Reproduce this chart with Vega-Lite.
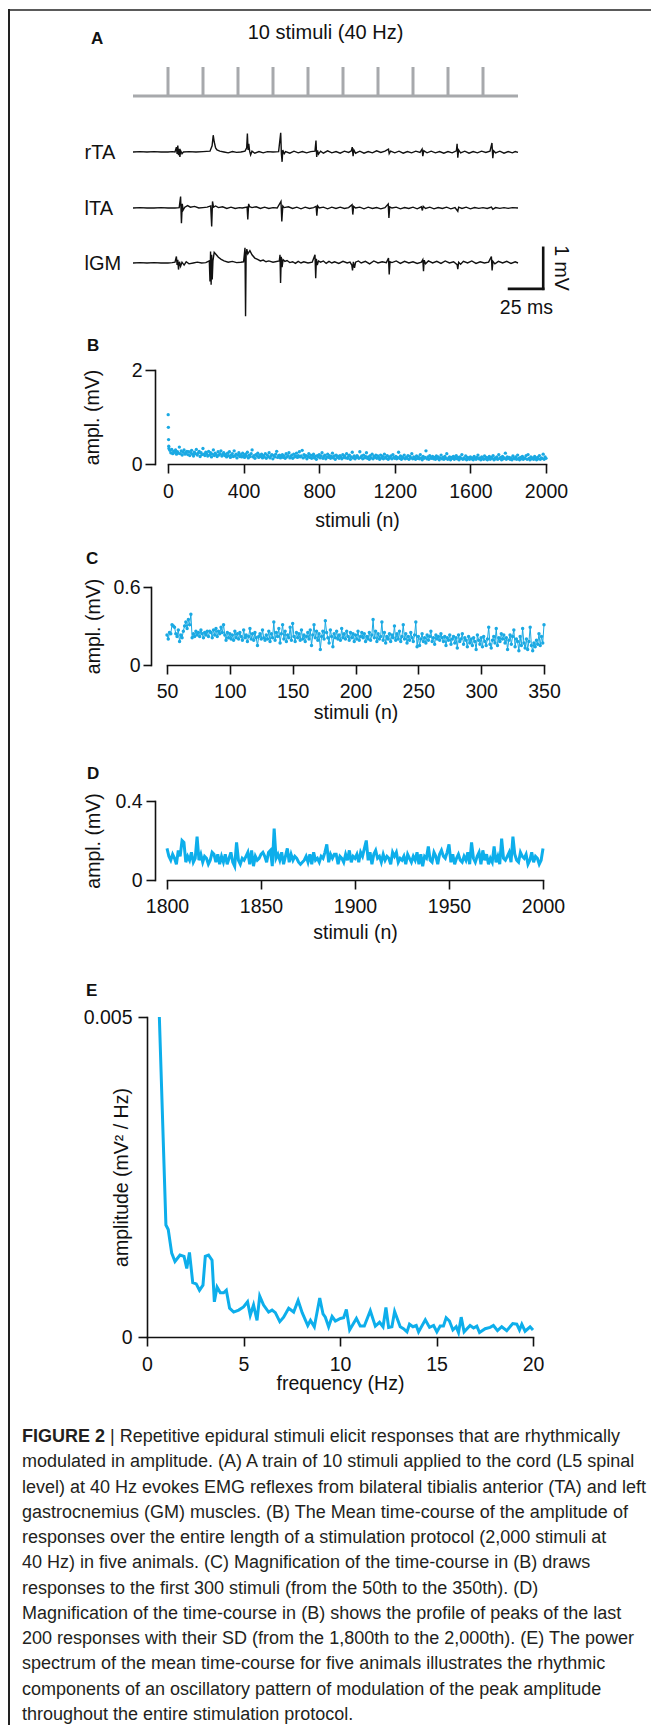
{
"$schema":"https://vega.github.io/schema/vega-lite/v6.json",
"background":"white",
"padding":{"left":8,"top":9,"right":0,"bottom":0},
"config":{
"view":{"stroke":null},
"font":"Liberation Sans",
"axis":{"grid":false,"domainColor":"#111","domainWidth":1.6,"tickColor":"#111","tickWidth":1.6,"tickSize":9,"labelFont":"Liberation Sans","labelFontSize":19.5,"labelColor":"#111","titleFont":"Liberation Sans","titleFontSize":19.5,"titleFontWeight":"normal","titleColor":"#111","labelFlush":false,"domainCap":"square"},
"title":{"font":"Liberation Sans","fontSize":17,"fontWeight":"bold","color":"#111","anchor":"start","frame":"group"},
"text":{"font":"Liberation Sans","color":"#111"}
},
"datasets":{
"rTA":[{"t":0,"v":0},{"t":5,"v":0.01},{"t":10,"v":0},{"t":15,"v":0.01},{"t":20,"v":0},{"t":25,"v":0},{"t":28,"v":0.01},{"t":30,"v":0},{"t":31,"v":0.12},{"t":31.5,"v":-0.05},{"t":32,"v":0.16},{"t":32.5,"v":-0.08},{"t":33,"v":0.08},{"t":33.5,"v":-0.12},{"t":34,"v":0.03},{"t":35,"v":-0.04},{"t":36,"v":0},{"t":40,"v":0.01},{"t":45,"v":0},{"t":50,"v":0.01},{"t":55,"v":0.02},{"t":56.5,"v":0.15},{"t":57.3,"v":0.41},{"t":58,"v":0.25},{"t":59,"v":0.1},{"t":60,"v":0.05},{"t":62,"v":0.02},{"t":65,"v":0},{"t":68,"v":-0.02},{"t":71,"v":0.01},{"t":74,"v":-0.01},{"t":77,"v":0},{"t":80,"v":0.02},{"t":81.2,"v":0.1},{"t":81.7,"v":0.45},{"t":82.2,"v":0.05},{"t":82.7,"v":0.2},{"t":83.3,"v":0.02},{"t":84,"v":-0.07},{"t":85,"v":0.02},{"t":87,"v":-0.03},{"t":90,"v":0.01},{"t":93,"v":-0.02},{"t":96,"v":0.01},{"t":100,"v":0},{"t":104,"v":0.01},{"t":105.5,"v":0.47},{"t":106,"v":-0.05},{"t":106.5,"v":-0.24},{"t":107,"v":0.05},{"t":108,"v":-0.04},{"t":109,"v":0.01},{"t":112,"v":-0.03},{"t":115,"v":0.02},{"t":118,"v":-0.02},{"t":121,"v":0.01},{"t":124,"v":-0.02},{"t":127,"v":0.01},{"t":130,"v":0.02},{"t":130.7,"v":0.28},{"t":131.2,"v":-0.12},{"t":131.8,"v":0.04},{"t":132.5,"v":-0.05},{"t":134,"v":0.02},{"t":136,"v":-0.03},{"t":139,"v":0.03},{"t":142,"v":-0.02},{"t":145,"v":0.01},{"t":148,"v":-0.03},{"t":151,"v":0.02},{"t":154,"v":-0.01},{"t":156,"v":0.03},{"t":156.6,"v":0.12},{"t":157.2,"v":-0.1},{"t":157.8,"v":0.05},{"t":159,"v":-0.03},{"t":162,"v":0.02},{"t":165,"v":-0.03},{"t":168,"v":0.01},{"t":171,"v":-0.02},{"t":174,"v":0.03},{"t":177,"v":-0.01},{"t":180,"v":0.02},{"t":182.5,"v":0.07},{"t":183,"v":-0.04},{"t":184,"v":0.02},{"t":187,"v":-0.02},{"t":190,"v":0.02},{"t":193,"v":-0.03},{"t":196,"v":0.01},{"t":199,"v":-0.02},{"t":202,"v":0.02},{"t":205,"v":-0.01},{"t":206.5,"v":0.07},{"t":207,"v":-0.1},{"t":207.7,"v":0.03},{"t":210,"v":-0.02},{"t":213,"v":0.02},{"t":216,"v":-0.02},{"t":219,"v":0.01},{"t":222,"v":-0.03},{"t":225,"v":0.01},{"t":228,"v":-0.02},{"t":231,"v":0.03},{"t":231.5,"v":0.2},{"t":232,"v":-0.14},{"t":232.6,"v":0.05},{"t":234,"v":-0.02},{"t":237,"v":0.02},{"t":240,"v":-0.03},{"t":243,"v":0.01},{"t":246,"v":-0.02},{"t":249,"v":0.02},{"t":252,"v":-0.01},{"t":255,"v":0.02},{"t":256.4,"v":0.22},{"t":257,"v":-0.15},{"t":257.6,"v":0.03},{"t":259,"v":-0.02},{"t":262,"v":0.02},{"t":265,"v":-0.03},{"t":268,"v":0.01},{"t":271,"v":-0.02},{"t":273,"v":0.01},{"t":275,"v":-0.01}],
"lTA":[{"t":0,"v":0},{"t":5,"v":0.01},{"t":10,"v":0},{"t":15,"v":0},{"t":20,"v":0.01},{"t":25,"v":0},{"t":30,"v":0},{"t":33,"v":0.01},{"t":34,"v":0.28},{"t":34.6,"v":-0.37},{"t":35.2,"v":0.1},{"t":35.8,"v":-0.05},{"t":37,"v":0.02},{"t":39,"v":0.06},{"t":41,"v":0.02},{"t":44,"v":0.04},{"t":47,"v":0},{"t":50,"v":0.01},{"t":53,"v":0.02},{"t":55.5,"v":0.05},{"t":56.2,"v":-0.45},{"t":56.8,"v":0.16},{"t":57.5,"v":0.02},{"t":59,"v":0.05},{"t":61,"v":0.01},{"t":64,"v":0.03},{"t":67,"v":-0.01},{"t":70,"v":0.02},{"t":73,"v":-0.01},{"t":76,"v":0.01},{"t":78,"v":0},{"t":81.5,"v":0.02},{"t":82,"v":-0.28},{"t":82.6,"v":0.1},{"t":83.3,"v":0.03},{"t":85,"v":0.01},{"t":88,"v":0.03},{"t":91,"v":-0.01},{"t":94,"v":0.02},{"t":97,"v":-0.01},{"t":100,"v":0.01},{"t":103,"v":0},{"t":105.7,"v":0.16},{"t":106.3,"v":-0.33},{"t":107,"v":0.05},{"t":108,"v":0.01},{"t":111,"v":0.03},{"t":114,"v":-0.01},{"t":117,"v":0.02},{"t":120,"v":-0.02},{"t":123,"v":0.02},{"t":126,"v":-0.01},{"t":129,"v":0.01},{"t":130.8,"v":0.04},{"t":131.3,"v":-0.19},{"t":131.9,"v":0.05},{"t":133,"v":0},{"t":136,"v":0.02},{"t":139,"v":-0.02},{"t":142,"v":0.02},{"t":145,"v":-0.01},{"t":148,"v":0.02},{"t":151,"v":-0.01},{"t":154,"v":0.01},{"t":156.5,"v":0.08},{"t":157,"v":-0.16},{"t":157.6,"v":0.04},{"t":159,"v":0},{"t":162,"v":0.02},{"t":165,"v":-0.02},{"t":168,"v":0.02},{"t":171,"v":-0.01},{"t":174,"v":0.01},{"t":177,"v":-0.02},{"t":180,"v":0.01},{"t":182.3,"v":0.1},{"t":182.8,"v":-0.24},{"t":183.4,"v":0.03},{"t":185,"v":0},{"t":188,"v":0.02},{"t":191,"v":-0.02},{"t":194,"v":0.01},{"t":197,"v":-0.01},{"t":200,"v":0.02},{"t":203,"v":-0.02},{"t":206,"v":0.03},{"t":206.7,"v":-0.06},{"t":207.3,"v":0.04},{"t":209,"v":-0.01},{"t":212,"v":0.02},{"t":215,"v":-0.02},{"t":218,"v":0.01},{"t":221,"v":-0.01},{"t":224,"v":0.02},{"t":227,"v":-0.02},{"t":230,"v":0.01},{"t":232,"v":-0.08},{"t":232.6,"v":0.02},{"t":235,"v":-0.01},{"t":238,"v":0.02},{"t":241,"v":-0.02},{"t":244,"v":0.01},{"t":247,"v":-0.01},{"t":250,"v":0.01},{"t":253,"v":-0.01},{"t":256,"v":0.02},{"t":257,"v":-0.03},{"t":259,"v":0.01},{"t":262,"v":-0.01},{"t":265,"v":0.01},{"t":268,"v":-0.01},{"t":271,"v":0.01},{"t":275,"v":0}],
"lGM":[{"t":0,"v":0},{"t":5,"v":0.01},{"t":10,"v":0},{"t":15,"v":0.01},{"t":20,"v":0},{"t":25,"v":0},{"t":28,"v":0.01},{"t":30,"v":0.02},{"t":31,"v":0.16},{"t":31.5,"v":-0.05},{"t":32,"v":0.08},{"t":32.5,"v":-0.16},{"t":33.2,"v":0.03},{"t":34,"v":-0.08},{"t":35,"v":0.02},{"t":36.5,"v":-0.05},{"t":38,"v":0.03},{"t":40,"v":-0.02},{"t":43,"v":0},{"t":46,"v":0.02},{"t":49,"v":0},{"t":52,"v":0.01},{"t":54.5,"v":0.05},{"t":55,"v":-0.45},{"t":55.4,"v":0.28},{"t":55.8,"v":-0.53},{"t":56.2,"v":0.2},{"t":56.6,"v":-0.4},{"t":57.1,"v":0.05},{"t":58,"v":0.26},{"t":59.5,"v":0.2},{"t":61,"v":0.14},{"t":63,"v":0.09},{"t":65,"v":0.05},{"t":68,"v":0.02},{"t":71,"v":0.04},{"t":74,"v":0.01},{"t":77,"v":0.02},{"t":79,"v":0.03},{"t":80,"v":0.37},{"t":80.4,"v":-1.3},{"t":80.8,"v":0.2},{"t":81.3,"v":0.34},{"t":82,"v":0.22},{"t":83.5,"v":0.3},{"t":85,"v":0.2},{"t":87,"v":0.12},{"t":89,"v":0.09},{"t":91,"v":0.05},{"t":93,"v":0.07},{"t":95,"v":0.03},{"t":97,"v":0.05},{"t":100,"v":0.02},{"t":104.5,"v":0.05},{"t":105,"v":0.2},{"t":105.4,"v":-0.49},{"t":105.9,"v":0.15},{"t":106.5,"v":-0.1},{"t":107.2,"v":0.08},{"t":108.5,"v":0.04},{"t":110,"v":0.06},{"t":112,"v":0.01},{"t":114,"v":0.03},{"t":116,"v":-0.01},{"t":118,"v":0.04},{"t":120,"v":0},{"t":122,"v":0.03},{"t":125,"v":0},{"t":128,"v":0.02},{"t":130,"v":0.2},{"t":130.5,"v":-0.37},{"t":131,"v":0.1},{"t":131.6,"v":-0.05},{"t":132.5,"v":0.05},{"t":134,"v":0.02},{"t":136,"v":0.05},{"t":138,"v":-0.01},{"t":140,"v":0.04},{"t":142,"v":0},{"t":144,"v":0.03},{"t":147,"v":-0.01},{"t":150,"v":0.04},{"t":153,"v":0},{"t":155,"v":0.02},{"t":156.3,"v":-0.05},{"t":156.8,"v":-0.18},{"t":157.4,"v":0.03},{"t":158.2,"v":-0.12},{"t":159,"v":0.02},{"t":161,"v":0.05},{"t":163,"v":0},{"t":166,"v":0.04},{"t":169,"v":-0.02},{"t":172,"v":0.05},{"t":175,"v":0},{"t":178,"v":0.03},{"t":181,"v":0.01},{"t":182.5,"v":0.12},{"t":183,"v":-0.28},{"t":183.6,"v":0.03},{"t":185,"v":0.01},{"t":188,"v":0.05},{"t":191,"v":-0.01},{"t":194,"v":0.04},{"t":197,"v":0},{"t":200,"v":0.03},{"t":203,"v":-0.01},{"t":206,"v":0.02},{"t":207,"v":0.08},{"t":207.5,"v":-0.2},{"t":208,"v":0.07},{"t":209,"v":-0.02},{"t":211,"v":0.05},{"t":214,"v":0},{"t":217,"v":0.04},{"t":220,"v":-0.01},{"t":223,"v":0.05},{"t":226,"v":0},{"t":229,"v":0.03},{"t":231.5,"v":-0.04},{"t":232,"v":-0.15},{"t":232.6,"v":0.02},{"t":234,"v":-0.03},{"t":236,"v":0.04},{"t":239,"v":0},{"t":242,"v":0.05},{"t":245,"v":-0.01},{"t":248,"v":0.03},{"t":251,"v":0},{"t":254,"v":0.02},{"t":256,"v":0.16},{"t":256.5,"v":-0.18},{"t":257.1,"v":0.04},{"t":258.5,"v":-0.02},{"t":261,"v":0.04},{"t":264,"v":0},{"t":267,"v":0.04},{"t":270,"v":-0.01},{"t":273,"v":0.03},{"t":275,"v":0}],
"B":[{"n":1,"a":1.05},{"n":2,"a":0.78},{"n":3,"a":0.52},{"n":4,"a":0.38},
{"n":5,"a":0.33},{"n":10,"a":0.29},{"n":15,"a":0.24},{"n":20,"a":0.31},{"n":25,"a":0.22},{"n":30,"a":0.27},{"n":35,"a":0.25},{"n":40,"a":0.3},{"n":45,"a":0.21},{"n":50,"a":0.26},{"n":55,"a":0.23},{"n":60,"a":0.36},{"n":65,"a":0.22},{"n":70,"a":0.28},{"n":75,"a":0.19},{"n":80,"a":0.25},{"n":85,"a":0.3},{"n":90,"a":0.21},{"n":95,"a":0.24},{"n":100,"a":0.27},
{"n":105,"a":0.2},{"n":110,"a":0.26},{"n":115,"a":0.18},{"n":120,"a":0.24},{"n":125,"a":0.29},{"n":130,"a":0.21},{"n":135,"a":0.17},{"n":140,"a":0.25},{"n":145,"a":0.22},{"n":150,"a":0.31},{"n":155,"a":0.19},{"n":160,"a":0.23},{"n":165,"a":0.27},{"n":170,"a":0.16},{"n":175,"a":0.24},{"n":180,"a":0.2},{"n":185,"a":0.33},{"n":190,"a":0.21},{"n":195,"a":0.18},{"n":200,"a":0.25},
{"n":205,"a":0.22},{"n":210,"a":0.17},{"n":215,"a":0.27},{"n":220,"a":0.19},{"n":225,"a":0.24},{"n":230,"a":0.15},{"n":235,"a":0.21},{"n":240,"a":0.3},{"n":245,"a":0.18},{"n":250,"a":0.23},{"n":255,"a":0.2},{"n":260,"a":0.16},{"n":265,"a":0.26},{"n":270,"a":0.19},{"n":275,"a":0.22},{"n":280,"a":0.28},{"n":285,"a":0.17},{"n":290,"a":0.21},{"n":295,"a":0.24},{"n":300,"a":0.18},
{"n":305,"a":0.2},{"n":310,"a":0.15},{"n":315,"a":0.23},{"n":320,"a":0.18},{"n":325,"a":0.26},{"n":330,"a":0.14},{"n":335,"a":0.19},{"n":340,"a":0.22},{"n":345,"a":0.16},{"n":350,"a":0.28},{"n":355,"a":0.17},{"n":360,"a":0.21},{"n":365,"a":0.13},{"n":370,"a":0.19},{"n":375,"a":0.24},{"n":380,"a":0.16},{"n":385,"a":0.2},{"n":390,"a":0.15},{"n":395,"a":0.23},{"n":400,"a":0.18},
{"n":405,"a":0.14},{"n":410,"a":0.21},{"n":415,"a":0.17},{"n":420,"a":0.25},{"n":425,"a":0.13},{"n":430,"a":0.19},{"n":435,"a":0.16},{"n":440,"a":0.22},{"n":445,"a":0.3},{"n":450,"a":0.15},{"n":455,"a":0.18},{"n":460,"a":0.12},{"n":465,"a":0.2},{"n":470,"a":0.17},{"n":475,"a":0.23},{"n":480,"a":0.14},{"n":485,"a":0.19},{"n":490,"a":0.16},{"n":495,"a":0.21},{"n":500,"a":0.13},
{"n":505,"a":0.18},{"n":510,"a":0.15},{"n":515,"a":0.22},{"n":520,"a":0.12},{"n":525,"a":0.19},{"n":530,"a":0.16},{"n":535,"a":0.24},{"n":540,"a":0.13},{"n":545,"a":0.17},{"n":550,"a":0.2},{"n":555,"a":0.11},{"n":560,"a":0.18},{"n":565,"a":0.15},{"n":570,"a":0.21},{"n":575,"a":0.27},{"n":580,"a":0.14},{"n":585,"a":0.17},{"n":590,"a":0.19},{"n":595,"a":0.13},{"n":600,"a":0.16},
{"n":605,"a":0.2},{"n":610,"a":0.14},{"n":615,"a":0.17},{"n":620,"a":0.12},{"n":625,"a":0.22},{"n":630,"a":0.15},{"n":635,"a":0.18},{"n":640,"a":0.24},{"n":645,"a":0.13},{"n":650,"a":0.16},{"n":655,"a":0.19},{"n":660,"a":0.12},{"n":665,"a":0.21},{"n":670,"a":0.15},{"n":675,"a":0.17},{"n":680,"a":0.23},{"n":685,"a":0.14},{"n":690,"a":0.18},{"n":695,"a":0.26},{"n":700,"a":0.15},
{"n":705,"a":0.17},{"n":710,"a":0.29},{"n":715,"a":0.13},{"n":720,"a":0.2},{"n":725,"a":0.15},{"n":730,"a":0.18},{"n":735,"a":0.11},{"n":740,"a":0.16},{"n":745,"a":0.22},{"n":750,"a":0.14},{"n":755,"a":0.19},{"n":760,"a":0.12},{"n":765,"a":0.17},{"n":770,"a":0.21},{"n":775,"a":0.13},{"n":780,"a":0.16},{"n":785,"a":0.1},{"n":790,"a":0.18},{"n":795,"a":0.15},{"n":800,"a":0.2},
{"n":805,"a":0.13},{"n":810,"a":0.17},{"n":815,"a":0.24},{"n":820,"a":0.12},{"n":825,"a":0.16},{"n":830,"a":0.19},{"n":835,"a":0.11},{"n":840,"a":0.15},{"n":845,"a":0.21},{"n":850,"a":0.14},{"n":855,"a":0.18},{"n":860,"a":0.12},{"n":865,"a":0.16},{"n":870,"a":0.23},{"n":875,"a":0.13},{"n":880,"a":0.17},{"n":885,"a":0.1},{"n":890,"a":0.19},{"n":895,"a":0.14},{"n":900,"a":0.16},
{"n":905,"a":0.12},{"n":910,"a":0.18},{"n":915,"a":0.15},{"n":920,"a":0.11},{"n":925,"a":0.2},{"n":930,"a":0.14},{"n":935,"a":0.17},{"n":940,"a":0.13},{"n":945,"a":0.22},{"n":950,"a":0.12},{"n":955,"a":0.16},{"n":960,"a":0.19},{"n":965,"a":0.1},{"n":970,"a":0.15},{"n":975,"a":0.25},{"n":980,"a":0.13},{"n":985,"a":0.17},{"n":990,"a":0.11},{"n":995,"a":0.14},{"n":1000,"a":0.18},
{"n":1005,"a":0.15},{"n":1010,"a":0.12},{"n":1015,"a":0.26},{"n":1020,"a":0.14},{"n":1025,"a":0.17},{"n":1030,"a":0.11},{"n":1035,"a":0.19},{"n":1040,"a":0.13},{"n":1045,"a":0.16},{"n":1050,"a":0.24},{"n":1055,"a":0.12},{"n":1060,"a":0.15},{"n":1065,"a":0.1},{"n":1070,"a":0.18},{"n":1075,"a":0.13},{"n":1080,"a":0.21},{"n":1085,"a":0.11},{"n":1090,"a":0.16},{"n":1095,"a":0.14},{"n":1100,"a":0.19},
{"n":1105,"a":0.12},{"n":1110,"a":0.17},{"n":1115,"a":0.14},{"n":1120,"a":0.1},{"n":1125,"a":0.19},{"n":1130,"a":0.13},{"n":1135,"a":0.16},{"n":1140,"a":0.11},{"n":1145,"a":0.21},{"n":1150,"a":0.14},{"n":1155,"a":0.12},{"n":1160,"a":0.18},{"n":1165,"a":0.1},{"n":1170,"a":0.15},{"n":1175,"a":0.13},{"n":1180,"a":0.17},{"n":1185,"a":0.11},{"n":1190,"a":0.2},{"n":1195,"a":0.14},{"n":1200,"a":0.12},
{"n":1205,"a":0.16},{"n":1210,"a":0.11},{"n":1215,"a":0.14},{"n":1220,"a":0.25},{"n":1225,"a":0.12},{"n":1230,"a":0.17},{"n":1235,"a":0.1},{"n":1240,"a":0.15},{"n":1245,"a":0.13},{"n":1250,"a":0.19},{"n":1255,"a":0.11},{"n":1260,"a":0.14},{"n":1265,"a":0.12},{"n":1270,"a":0.18},{"n":1275,"a":0.1},{"n":1280,"a":0.16},{"n":1285,"a":0.13},{"n":1290,"a":0.22},{"n":1295,"a":0.11},{"n":1300,"a":0.15},
{"n":1305,"a":0.13},{"n":1310,"a":0.1},{"n":1315,"a":0.17},{"n":1320,"a":0.12},{"n":1325,"a":0.15},{"n":1330,"a":0.11},{"n":1335,"a":0.2},{"n":1340,"a":0.13},{"n":1345,"a":0.09},{"n":1350,"a":0.16},{"n":1355,"a":0.12},{"n":1360,"a":0.14},{"n":1365,"a":0.28},{"n":1370,"a":0.11},{"n":1375,"a":0.15},{"n":1380,"a":0.1},{"n":1385,"a":0.18},{"n":1390,"a":0.13},{"n":1395,"a":0.12},{"n":1400,"a":0.16},
{"n":1405,"a":0.11},{"n":1410,"a":0.14},{"n":1415,"a":0.1},{"n":1420,"a":0.17},{"n":1425,"a":0.12},{"n":1430,"a":0.15},{"n":1435,"a":0.09},{"n":1440,"a":0.13},{"n":1445,"a":0.19},{"n":1450,"a":0.11},{"n":1455,"a":0.14},{"n":1460,"a":0.1},{"n":1465,"a":0.16},{"n":1470,"a":0.12},{"n":1475,"a":0.22},{"n":1480,"a":0.1},{"n":1485,"a":0.13},{"n":1490,"a":0.15},{"n":1495,"a":0.09},{"n":1500,"a":0.14},
{"n":1505,"a":0.12},{"n":1510,"a":0.16},{"n":1515,"a":0.1},{"n":1520,"a":0.13},{"n":1525,"a":0.18},{"n":1530,"a":0.11},{"n":1535,"a":0.14},{"n":1540,"a":0.09},{"n":1545,"a":0.15},{"n":1550,"a":0.12},{"n":1555,"a":0.2},{"n":1560,"a":0.1},{"n":1565,"a":0.13},{"n":1570,"a":0.11},{"n":1575,"a":0.17},{"n":1580,"a":0.09},{"n":1585,"a":0.14},{"n":1590,"a":0.12},{"n":1595,"a":0.1},{"n":1600,"a":0.15},
{"n":1605,"a":0.11},{"n":1610,"a":0.13},{"n":1615,"a":0.09},{"n":1620,"a":0.16},{"n":1625,"a":0.12},{"n":1630,"a":0.1},{"n":1635,"a":0.14},{"n":1640,"a":0.19},{"n":1645,"a":0.11},{"n":1650,"a":0.13},{"n":1655,"a":0.09},{"n":1660,"a":0.15},{"n":1665,"a":0.12},{"n":1670,"a":0.1},{"n":1675,"a":0.17},{"n":1680,"a":0.11},{"n":1685,"a":0.14},{"n":1690,"a":0.09},{"n":1695,"a":0.13},{"n":1700,"a":0.16},
{"n":1705,"a":0.1},{"n":1710,"a":0.14},{"n":1715,"a":0.12},{"n":1720,"a":0.18},{"n":1725,"a":0.09},{"n":1730,"a":0.13},{"n":1735,"a":0.11},{"n":1740,"a":0.15},{"n":1745,"a":0.1},{"n":1750,"a":0.2},{"n":1755,"a":0.12},{"n":1760,"a":0.14},{"n":1765,"a":0.09},{"n":1770,"a":0.16},{"n":1775,"a":0.11},{"n":1780,"a":0.13},{"n":1785,"a":0.23},{"n":1790,"a":0.1},{"n":1795,"a":0.15},{"n":1800,"a":0.12},
{"n":1805,"a":0.14},{"n":1810,"a":0.1},{"n":1815,"a":0.13},{"n":1820,"a":0.09},{"n":1825,"a":0.17},{"n":1830,"a":0.12},{"n":1835,"a":0.11},{"n":1840,"a":0.15},{"n":1845,"a":0.1},{"n":1850,"a":0.19},{"n":1855,"a":0.12},{"n":1860,"a":0.09},{"n":1865,"a":0.14},{"n":1870,"a":0.11},{"n":1875,"a":0.16},{"n":1880,"a":0.1},{"n":1885,"a":0.13},{"n":1890,"a":0.12},{"n":1895,"a":0.18},{"n":1900,"a":0.1},
{"n":1905,"a":0.2},{"n":1910,"a":0.12},{"n":1915,"a":0.09},{"n":1920,"a":0.15},{"n":1925,"a":0.11},{"n":1930,"a":0.13},{"n":1935,"a":0.1},{"n":1940,"a":0.16},{"n":1945,"a":0.12},{"n":1950,"a":0.09},{"n":1955,"a":0.14},{"n":1960,"a":0.11},{"n":1965,"a":0.18},{"n":1970,"a":0.1},{"n":1975,"a":0.13},{"n":1980,"a":0.12},{"n":1985,"a":0.21},{"n":1990,"a":0.1},{"n":1995,"a":0.15},{"n":2000,"a":0.12}],
"C":[{"n":50,"a":0.23},{"n":51,"a":0.2},{"n":52,"a":0.25},{"n":53,"a":0.24},{"n":54,"a":0.31},{"n":55,"a":0.3},{"n":56,"a":0.29},{"n":57,"a":0.24},{"n":58,"a":0.22},{"n":59,"a":0.27},{"n":60,"a":0.18},{"n":61,"a":0.23},{"n":62,"a":0.21},{"n":63,"a":0.26},{"n":64,"a":0.3},{"n":65,"a":0.33},{"n":66,"a":0.28},{"n":67,"a":0.35},{"n":68,"a":0.31},{"n":69,"a":0.39},{"n":70,"a":0.21},{"n":71,"a":0.24},{"n":72,"a":0.22},{"n":73,"a":0.26},{"n":74,"a":0.23},{"n":75,"a":0.25},{"n":76,"a":0.22},{"n":77,"a":0.27},{"n":78,"a":0.24},{"n":79,"a":0.21},{"n":80,"a":0.25},{"n":81,"a":0.23},{"n":82,"a":0.26},{"n":83,"a":0.22},{"n":84,"a":0.26},{"n":85,"a":0.25},{"n":86,"a":0.21},{"n":87,"a":0.27},{"n":88,"a":0.23},{"n":89,"a":0.28},{"n":90,"a":0.22},{"n":91,"a":0.26},{"n":92,"a":0.24},{"n":93,"a":0.29},{"n":94,"a":0.25},{"n":95,"a":0.31},{"n":96,"a":0.23},{"n":97,"a":0.19},{"n":98,"a":0.25},{"n":99,"a":0.21},{"n":100,"a":0.24},{"n":101,"a":0.2},{"n":102,"a":0.23},{"n":103,"a":0.19},{"n":104,"a":0.26},{"n":105,"a":0.21},{"n":106,"a":0.24},{"n":107,"a":0.2},{"n":108,"a":0.25},{"n":109,"a":0.22},{"n":110,"a":0.19},{"n":111,"a":0.27},{"n":112,"a":0.21},{"n":113,"a":0.23},{"n":114,"a":0.18},{"n":115,"a":0.22},{"n":116,"a":0.28},{"n":117,"a":0.2},{"n":118,"a":0.24},{"n":119,"a":0.19},{"n":120,"a":0.25},{"n":121,"a":0.21},{"n":122,"a":0.15},{"n":123,"a":0.22},{"n":124,"a":0.24},{"n":125,"a":0.2},{"n":126,"a":0.27},{"n":127,"a":0.21},{"n":128,"a":0.19},{"n":129,"a":0.23},{"n":130,"a":0.2},{"n":131,"a":0.26},{"n":132,"a":0.18},{"n":133,"a":0.24},{"n":134,"a":0.21},{"n":135,"a":0.33},{"n":136,"a":0.19},{"n":137,"a":0.25},{"n":138,"a":0.22},{"n":139,"a":0.28},{"n":140,"a":0.17},{"n":141,"a":0.24},{"n":142,"a":0.31},{"n":143,"a":0.2},{"n":144,"a":0.26},{"n":145,"a":0.18},{"n":146,"a":0.23},{"n":147,"a":0.21},{"n":148,"a":0.29},{"n":149,"a":0.19},{"n":150,"a":0.32},{"n":151,"a":0.22},{"n":152,"a":0.18},{"n":153,"a":0.25},{"n":154,"a":0.21},{"n":155,"a":0.24},{"n":156,"a":0.19},{"n":157,"a":0.27},{"n":158,"a":0.2},{"n":159,"a":0.23},{"n":160,"a":0.18},{"n":161,"a":0.22},{"n":162,"a":0.25},{"n":163,"a":0.2},{"n":164,"a":0.27},{"n":165,"a":0.15},{"n":166,"a":0.23},{"n":167,"a":0.31},{"n":168,"a":0.21},{"n":169,"a":0.26},{"n":170,"a":0.19},{"n":171,"a":0.24},{"n":172,"a":0.12},{"n":173,"a":0.22},{"n":174,"a":0.26},{"n":175,"a":0.2},{"n":176,"a":0.34},{"n":177,"a":0.25},{"n":178,"a":0.21},{"n":179,"a":0.17},{"n":180,"a":0.27},{"n":181,"a":0.22},{"n":182,"a":0.14},{"n":183,"a":0.24},{"n":184,"a":0.21},{"n":185,"a":0.26},{"n":186,"a":0.2},{"n":187,"a":0.23},{"n":188,"a":0.19},{"n":189,"a":0.28},{"n":190,"a":0.21},{"n":191,"a":0.24},{"n":192,"a":0.2},{"n":193,"a":0.26},{"n":194,"a":0.22},{"n":195,"a":0.19},{"n":196,"a":0.25},{"n":197,"a":0.21},{"n":198,"a":0.24},{"n":199,"a":0.18},{"n":200,"a":0.23},{"n":201,"a":0.2},{"n":202,"a":0.26},{"n":203,"a":0.19},{"n":204,"a":0.22},{"n":205,"a":0.25},{"n":206,"a":0.21},{"n":207,"a":0.24},{"n":208,"a":0.18},{"n":209,"a":0.22},{"n":210,"a":0.2},{"n":211,"a":0.25},{"n":212,"a":0.19},{"n":213,"a":0.23},{"n":214,"a":0.35},{"n":215,"a":0.21},{"n":216,"a":0.26},{"n":217,"a":0.18},{"n":218,"a":0.24},{"n":219,"a":0.2},{"n":220,"a":0.22},{"n":221,"a":0.33},{"n":222,"a":0.19},{"n":223,"a":0.25},{"n":224,"a":0.17},{"n":225,"a":0.22},{"n":226,"a":0.2},{"n":227,"a":0.24},{"n":228,"a":0.18},{"n":229,"a":0.23},{"n":230,"a":0.21},{"n":231,"a":0.3},{"n":232,"a":0.19},{"n":233,"a":0.24},{"n":234,"a":0.2},{"n":235,"a":0.26},{"n":236,"a":0.18},{"n":237,"a":0.22},{"n":238,"a":0.31},{"n":239,"a":0.2},{"n":240,"a":0.24},{"n":241,"a":0.17},{"n":242,"a":0.22},{"n":243,"a":0.19},{"n":244,"a":0.25},{"n":245,"a":0.21},{"n":246,"a":0.18},{"n":247,"a":0.23},{"n":248,"a":0.33},{"n":249,"a":0.14},{"n":250,"a":0.22},{"n":251,"a":0.15},{"n":252,"a":0.2},{"n":253,"a":0.24},{"n":254,"a":0.18},{"n":255,"a":0.21},{"n":256,"a":0.17},{"n":257,"a":0.23},{"n":258,"a":0.19},{"n":259,"a":0.22},{"n":260,"a":0.26},{"n":261,"a":0.18},{"n":262,"a":0.21},{"n":263,"a":0.16},{"n":264,"a":0.23},{"n":265,"a":0.2},{"n":266,"a":0.22},{"n":267,"a":0.19},{"n":268,"a":0.24},{"n":269,"a":0.21},{"n":270,"a":0.18},{"n":271,"a":0.22},{"n":272,"a":0.15},{"n":273,"a":0.21},{"n":274,"a":0.19},{"n":275,"a":0.23},{"n":276,"a":0.16},{"n":277,"a":0.2},{"n":278,"a":0.22},{"n":279,"a":0.17},{"n":280,"a":0.21},{"n":281,"a":0.13},{"n":282,"a":0.23},{"n":283,"a":0.18},{"n":284,"a":0.2},{"n":285,"a":0.24},{"n":286,"a":0.16},{"n":287,"a":0.21},{"n":288,"a":0.19},{"n":289,"a":0.14},{"n":290,"a":0.22},{"n":291,"a":0.17},{"n":292,"a":0.2},{"n":293,"a":0.15},{"n":294,"a":0.21},{"n":295,"a":0.18},{"n":296,"a":0.12},{"n":297,"a":0.23},{"n":298,"a":0.19},{"n":299,"a":0.16},{"n":300,"a":0.21},{"n":301,"a":0.14},{"n":302,"a":0.22},{"n":303,"a":0.18},{"n":304,"a":0.15},{"n":305,"a":0.2},{"n":306,"a":0.29},{"n":307,"a":0.16},{"n":308,"a":0.13},{"n":309,"a":0.19},{"n":310,"a":0.22},{"n":311,"a":0.17},{"n":312,"a":0.28},{"n":313,"a":0.15},{"n":314,"a":0.21},{"n":315,"a":0.18},{"n":316,"a":0.24},{"n":317,"a":0.2},{"n":318,"a":0.23},{"n":319,"a":0.17},{"n":320,"a":0.21},{"n":321,"a":0.12},{"n":322,"a":0.19},{"n":323,"a":0.23},{"n":324,"a":0.16},{"n":325,"a":0.22},{"n":326,"a":0.27},{"n":327,"a":0.14},{"n":328,"a":0.2},{"n":329,"a":0.18},{"n":330,"a":0.11},{"n":331,"a":0.22},{"n":332,"a":0.15},{"n":333,"a":0.28},{"n":334,"a":0.17},{"n":335,"a":0.13},{"n":336,"a":0.2},{"n":337,"a":0.12},{"n":338,"a":0.18},{"n":339,"a":0.29},{"n":340,"a":0.15},{"n":341,"a":0.11},{"n":342,"a":0.17},{"n":343,"a":0.14},{"n":344,"a":0.19},{"n":345,"a":0.16},{"n":346,"a":0.24},{"n":347,"a":0.15},{"n":348,"a":0.22},{"n":349,"a":0.17},{"n":350,"a":0.31}],
"D":[{"n":1800,"a":0.16},{"n":1801,"a":0.12},{"n":1802,"a":0.1},{"n":1803,"a":0.13},{"n":1804,"a":0.11},{"n":1805,"a":0.08},{"n":1806,"a":0.15},{"n":1807,"a":0.12},{"n":1808,"a":0.2},{"n":1809,"a":0.19},{"n":1810,"a":0.09},{"n":1811,"a":0.12},{"n":1812,"a":0.1},{"n":1813,"a":0.14},{"n":1814,"a":0.09},{"n":1815,"a":0.11},{"n":1816,"a":0.22},{"n":1817,"a":0.1},{"n":1818,"a":0.13},{"n":1819,"a":0.09},{"n":1820,"a":0.12},{"n":1821,"a":0.11},{"n":1822,"a":0.08},{"n":1823,"a":0.1},{"n":1824,"a":0.14},{"n":1825,"a":0.13},{"n":1826,"a":0.09},{"n":1827,"a":0.13},{"n":1828,"a":0.08},{"n":1829,"a":0.12},{"n":1830,"a":0.09},{"n":1831,"a":0.13},{"n":1832,"a":0.08},{"n":1833,"a":0.11},{"n":1834,"a":0.14},{"n":1835,"a":0.09},{"n":1836,"a":0.07},{"n":1837,"a":0.19},{"n":1838,"a":0.1},{"n":1839,"a":0.08},{"n":1840,"a":0.11},{"n":1841,"a":0.1},{"n":1842,"a":0.12},{"n":1843,"a":0.14},{"n":1844,"a":0.08},{"n":1845,"a":0.15},{"n":1846,"a":0.07},{"n":1847,"a":0.12},{"n":1848,"a":0.1},{"n":1849,"a":0.11},{"n":1850,"a":0.13},{"n":1851,"a":0.14},{"n":1852,"a":0.12},{"n":1853,"a":0.09},{"n":1854,"a":0.14},{"n":1855,"a":0.15},{"n":1856,"a":0.07},{"n":1857,"a":0.26},{"n":1858,"a":0.11},{"n":1859,"a":0.13},{"n":1860,"a":0.1},{"n":1861,"a":0.14},{"n":1862,"a":0.08},{"n":1863,"a":0.12},{"n":1864,"a":0.16},{"n":1865,"a":0.09},{"n":1866,"a":0.13},{"n":1867,"a":0.1},{"n":1868,"a":0.12},{"n":1869,"a":0.11},{"n":1870,"a":0.09},{"n":1871,"a":0.08},{"n":1872,"a":0.09},{"n":1873,"a":0.1},{"n":1874,"a":0.12},{"n":1875,"a":0.09},{"n":1876,"a":0.13},{"n":1877,"a":0.08},{"n":1878,"a":0.14},{"n":1879,"a":0.1},{"n":1880,"a":0.11},{"n":1881,"a":0.09},{"n":1882,"a":0.12},{"n":1883,"a":0.11},{"n":1884,"a":0.14},{"n":1885,"a":0.18},{"n":1886,"a":0.09},{"n":1887,"a":0.13},{"n":1888,"a":0.11},{"n":1889,"a":0.13},{"n":1890,"a":0.13},{"n":1891,"a":0.08},{"n":1892,"a":0.12},{"n":1893,"a":0.11},{"n":1894,"a":0.09},{"n":1895,"a":0.13},{"n":1896,"a":0.1},{"n":1897,"a":0.15},{"n":1898,"a":0.09},{"n":1899,"a":0.12},{"n":1900,"a":0.11},{"n":1901,"a":0.13},{"n":1902,"a":0.09},{"n":1903,"a":0.14},{"n":1904,"a":0.12},{"n":1905,"a":0.16},{"n":1906,"a":0.2},{"n":1907,"a":0.1},{"n":1908,"a":0.14},{"n":1909,"a":0.08},{"n":1910,"a":0.13},{"n":1911,"a":0.15},{"n":1912,"a":0.11},{"n":1913,"a":0.12},{"n":1914,"a":0.09},{"n":1915,"a":0.13},{"n":1916,"a":0.1},{"n":1917,"a":0.12},{"n":1918,"a":0.11},{"n":1919,"a":0.08},{"n":1920,"a":0.14},{"n":1921,"a":0.12},{"n":1922,"a":0.14},{"n":1923,"a":0.09},{"n":1924,"a":0.11},{"n":1925,"a":0.1},{"n":1926,"a":0.12},{"n":1927,"a":0.08},{"n":1928,"a":0.13},{"n":1929,"a":0.11},{"n":1930,"a":0.09},{"n":1931,"a":0.12},{"n":1932,"a":0.1},{"n":1933,"a":0.14},{"n":1934,"a":0.08},{"n":1935,"a":0.13},{"n":1936,"a":0.07},{"n":1937,"a":0.12},{"n":1938,"a":0.11},{"n":1939,"a":0.17},{"n":1940,"a":0.1},{"n":1941,"a":0.09},{"n":1942,"a":0.14},{"n":1943,"a":0.12},{"n":1944,"a":0.08},{"n":1945,"a":0.13},{"n":1946,"a":0.15},{"n":1947,"a":0.12},{"n":1948,"a":0.11},{"n":1949,"a":0.14},{"n":1950,"a":0.18},{"n":1951,"a":0.09},{"n":1952,"a":0.13},{"n":1953,"a":0.08},{"n":1954,"a":0.11},{"n":1955,"a":0.13},{"n":1956,"a":0.1},{"n":1957,"a":0.09},{"n":1958,"a":0.12},{"n":1959,"a":0.1},{"n":1960,"a":0.14},{"n":1961,"a":0.08},{"n":1962,"a":0.19},{"n":1963,"a":0.11},{"n":1964,"a":0.09},{"n":1965,"a":0.12},{"n":1966,"a":0.14},{"n":1967,"a":0.08},{"n":1968,"a":0.15},{"n":1969,"a":0.1},{"n":1970,"a":0.13},{"n":1971,"a":0.08},{"n":1972,"a":0.11},{"n":1973,"a":0.09},{"n":1974,"a":0.17},{"n":1975,"a":0.09},{"n":1976,"a":0.12},{"n":1977,"a":0.08},{"n":1978,"a":0.21},{"n":1979,"a":0.11},{"n":1980,"a":0.1},{"n":1981,"a":0.12},{"n":1982,"a":0.14},{"n":1983,"a":0.09},{"n":1984,"a":0.22},{"n":1985,"a":0.13},{"n":1986,"a":0.1},{"n":1987,"a":0.09},{"n":1988,"a":0.14},{"n":1989,"a":0.12},{"n":1990,"a":0.11},{"n":1991,"a":0.13},{"n":1992,"a":0.08},{"n":1993,"a":0.1},{"n":1994,"a":0.14},{"n":1995,"a":0.09},{"n":1996,"a":0.12},{"n":1997,"a":0.11},{"n":1998,"a":0.08},{"n":1999,"a":0.1},{"n":2000,"a":0.16}],
"E":[{"f":0.64,"p":0.005},{"f":0.98,"p":0.00175},{"f":1.1,"p":0.00168},{"f":1.28,"p":0.00131},{"f":1.45,"p":0.00118},{"f":1.71,"p":0.00128},{"f":1.92,"p":0.00126},{"f":2.06,"p":0.00107},{"f":2.2,"p":0.00132},{"f":2.37,"p":0.00085},{"f":2.55,"p":0.00083},{"f":2.72,"p":0.00073},{"f":2.9,"p":0.00081},{"f":3.02,"p":0.00126},{"f":3.19,"p":0.00128},{"f":3.37,"p":0.0012},{"f":3.49,"p":0.00055},{"f":3.63,"p":0.00078},{"f":3.8,"p":0.00069},{"f":3.97,"p":0.00069},{"f":4.11,"p":0.00073},{"f":4.28,"p":0.00045},{"f":4.49,"p":0.00039},{"f":4.75,"p":0.00042},{"f":5.0,"p":0.00047},{"f":5.21,"p":0.00055},{"f":5.35,"p":0.00034},{"f":5.52,"p":0.0005},{"f":5.7,"p":0.00026},{"f":5.84,"p":0.00064},{"f":6.04,"p":0.0005},{"f":6.3,"p":0.00039},{"f":6.48,"p":0.00042},{"f":6.65,"p":0.00038},{"f":6.88,"p":0.00024},{"f":7.08,"p":0.00031},{"f":7.34,"p":0.00045},{"f":7.6,"p":0.00039},{"f":7.83,"p":0.00057},{"f":8.04,"p":0.00038},{"f":8.33,"p":0.00018},{"f":8.47,"p":0.00026},{"f":8.67,"p":0.00016},{"f":8.95,"p":0.00061},{"f":9.12,"p":0.00036},{"f":9.24,"p":0.00031},{"f":9.41,"p":0.00016},{"f":9.59,"p":0.00032},{"f":9.76,"p":0.00025},{"f":10.02,"p":0.00029},{"f":10.19,"p":0.0003},{"f":10.33,"p":0.00043},{"f":10.5,"p":0.00011},{"f":10.85,"p":0.00029},{"f":11.05,"p":0.00017},{"f":11.26,"p":0.00017},{"f":11.57,"p":0.00041},{"f":11.83,"p":0.00017},{"f":12.05,"p":0.00023},{"f":12.23,"p":0.00016},{"f":12.38,"p":0.00046},{"f":12.52,"p":0.00015},{"f":12.69,"p":0.00016},{"f":12.83,"p":0.0004},{"f":13.12,"p":0.00016},{"f":13.29,"p":0.00013},{"f":13.47,"p":0.00008},{"f":13.6,"p":0.0002},{"f":13.78,"p":0.00016},{"f":13.95,"p":0.00018},{"f":14.07,"p":0.00008},{"f":14.42,"p":0.00027},{"f":14.64,"p":0.00015},{"f":14.85,"p":0.00018},{"f":15.02,"p":0.00008},{"f":15.19,"p":0.00017},{"f":15.36,"p":0.00017},{"f":15.5,"p":0.0003},{"f":15.67,"p":0.00025},{"f":15.85,"p":0.00011},{"f":16.02,"p":0.00016},{"f":16.14,"p":0.00007},{"f":16.28,"p":0.00031},{"f":16.43,"p":0.00008},{"f":16.74,"p":0.00018},{"f":16.92,"p":0.00014},{"f":17.09,"p":0.00017},{"f":17.23,"p":0.00007},{"f":17.52,"p":0.00013},{"f":17.78,"p":0.00015},{"f":17.95,"p":0.00018},{"f":18.16,"p":0.0001},{"f":18.38,"p":0.00016},{"f":18.64,"p":0.0001},{"f":18.95,"p":0.00021},{"f":19.16,"p":0.0002},{"f":19.3,"p":0.00011},{"f":19.42,"p":0.0002},{"f":19.59,"p":0.00009},{"f":19.85,"p":0.00016},{"f":20.0,"p":0.00011}],
"cap":[{"line":1,"seg":"b","text":"FIGURE 2"},{"line":1,"seg":"r","text":"| Repetitive epidural stimuli elicit responses that are rhythmically"},{"line":2,"seg":"p","text":"modulated in amplitude. (A) A train of 10 stimuli applied to the cord (L5 spinal"},{"line":3,"seg":"p","text":"level) at 40 Hz evokes EMG reflexes from bilateral tibialis anterior (TA) and left"},{"line":4,"seg":"p","text":"gastrocnemius (GM) muscles. (B) The Mean time-course of the amplitude of"},{"line":5,"seg":"p","text":"responses over the entire length of a stimulation protocol (2,000 stimuli at"},{"line":6,"seg":"p","text":"40 Hz) in five animals. (C) Magnification of the time-course in (B) draws"},{"line":7,"seg":"p","text":"responses to the first 300 stimuli (from the 50th to the 350th). (D)"},{"line":8,"seg":"p","text":"Magnification of the time-course in (B) shows the profile of peaks of the last"},{"line":9,"seg":"p","text":"200 responses with their SD (from the 1,800th to the 2,000th). (E) The power"},{"line":10,"seg":"p","text":"spectrum of the mean time-course for five animals illustrates the rhythmic"},{"line":11,"seg":"p","text":"components of an oscillatory pattern of modulation of the peak amplitude"},{"line":12,"seg":"p","text":"throughout the entire stimulation protocol."}]
},
"bounds":"flush",
"spacing":0,
"hconcat":[
{"width":2,"height":1716,"data":{"values":[]},"mark":"point","view":{"fill":"#222222","stroke":null}},
{"bounds":"flush","spacing":0,"vconcat":[
{"width":641,"height":2,"data":{"values":[]},"mark":"point","view":{"fill":"#5a5a5a","stroke":null}},
{"width":1,"height":56,"data":{"values":[]},"mark":"point"},
{"columns":2,"align":"each","bounds":"flush","spacing":0,"concat":[
{"width":123,"height":58,"data":{"values":[]},"mark":"point","title":{"text":"A","dx":81,"offset":19}},
{"width":385,"height":58,"title":{"text":"10 stimuli (40 Hz)","anchor":"middle","fontSize":20,"fontWeight":"normal","offset":23},
"layer":[
{"data":{"values":[{"t0":0,"t1":275}]},"mark":{"type":"rule","color":"#a7a9ac","strokeWidth":3},
"encoding":{"x":{"field":"t0","type":"quantitative","scale":{"domain":[0,275],"nice":false},"axis":null},"x2":{"field":"t1"},"y":{"datum":0,"type":"quantitative","scale":{"domain":[-1,1],"nice":false},"axis":null}}},
{"data":{"values":[{"t":25},{"t":50},{"t":75},{"t":100},{"t":125},{"t":150},{"t":175},{"t":200},{"t":225},{"t":250}]},"mark":{"type":"rule","color":"#a7a9ac","strokeWidth":3},
"encoding":{"x":{"field":"t","type":"quantitative"},"y":{"datum":0,"type":"quantitative"},"y2":{"datum":1}}}
]},
{"width":123,"height":54,"data":{"values":[]},"mark":"point"},
{"width":385,"height":54,"data":{"name":"rTA"},"mark":{"type":"line","color":"#111","strokeWidth":1.4},
"encoding":{"x":{"field":"t","type":"quantitative","scale":{"domain":[0,275],"nice":false},"axis":null},
"y":{"field":"v","type":"quantitative","scale":{"domain":[-0.659,0.659],"nice":false,"zero":false},"axis":{"title":"rTA","domain":false,"ticks":false,"labels":false,"titleAngle":0,"titleAlign":"left","titleBaseline":"middle","titleX":-49,"titleFontSize":20}}}},
{"width":123,"height":58,"data":{"values":[]},"mark":"point"},
{"width":385,"height":58,"data":{"name":"lTA"},"mark":{"type":"line","color":"#111","strokeWidth":1.4},
"encoding":{"x":{"field":"t","type":"quantitative","scale":{"domain":[0,275],"nice":false},"axis":null},
"y":{"field":"v","type":"quantitative","scale":{"domain":[-0.707,0.707],"nice":false,"zero":false},"axis":{"title":"lTA","domain":false,"ticks":false,"labels":false,"titleAngle":0,"titleAlign":"left","titleBaseline":"middle","titleX":-49,"titleFontSize":20}}}},
{"width":123,"height":133,"data":{"values":[]},"mark":"point"},
{"width":385,"height":52,
"layer":[
{"data":{"name":"lGM"},"mark":{"type":"line","color":"#111","strokeWidth":1.4},
"encoding":{"x":{"field":"t","type":"quantitative","scale":{"domain":[0,275],"nice":false},"axis":null},
"y":{"field":"v","type":"quantitative","scale":{"domain":[-0.634,0.634],"nice":false,"zero":false},"axis":{"title":"lGM","domain":false,"ticks":false,"labels":false,"titleAngle":0,"titleAlign":"left","titleBaseline":"middle","titleX":-49,"titleFontSize":20}}}},
{"data":{"values":[{"t":293,"v0":-0.63,"v1":0.37}]},"mark":{"type":"rule","color":"#111","strokeWidth":2.6,"strokeCap":"square"},
"encoding":{"x":{"field":"t","type":"quantitative"},"y":{"field":"v0","type":"quantitative"},"y2":{"field":"v1"}}},
{"data":{"values":[{"t0":268.6,"t1":293,"v":-0.63}]},"mark":{"type":"rule","color":"#111","strokeWidth":2.6,"strokeCap":"square"},
"encoding":{"x":{"field":"t0","type":"quantitative"},"x2":{"field":"t1"},"y":{"field":"v","type":"quantitative"}}},
{"data":{"values":[{"t":281,"v":-1.1,"label":"25 ms"}]},"mark":{"type":"text","fontSize":19.5,"align":"center","baseline":"middle"},
"encoding":{"x":{"field":"t","type":"quantitative"},"y":{"field":"v","type":"quantitative"},"text":{"field":"label"}}},
{"data":{"values":[{"t":306,"v":-0.12,"label":"1 mV"}]},"mark":{"type":"text","fontSize":19.5,"align":"center","baseline":"middle","angle":90},
"encoding":{"x":{"field":"t","type":"quantitative"},"y":{"field":"v","type":"quantitative"},"text":{"field":"label"}}}
]},
{"width":123,"height":217,"data":{"values":[]},"mark":"point","title":{"text":"B","dx":77,"offset":15}},
{"width":413,"height":94,"data":{"name":"B"},"mark":{"type":"point","filled":true,"size":11,"color":"#1aa9e3","opacity":1},
"encoding":{"x":{"field":"n","type":"quantitative","scale":{"domain":[0,2000],"nice":false,"range":[35,413]},"axis":{"values":[0,400,800,1200,1600,2000],"format":"d","title":"stimuli (n)","labelPadding":9,"titleY":47}},
"y":{"field":"a","type":"quantitative","scale":{"domain":[0,2],"nice":false},"axis":{"values":[0,1,2],"format":"d","title":"ampl. (mV)","offset":-22,"tickSize":10,"labelPadding":3,"titleX":-53}}}},
{"width":123,"height":214,"data":{"values":[]},"mark":"point","title":{"text":"C","dx":76,"offset":19}},
{"width":411,"height":78,"data":{"name":"C"},
"encoding":{"x":{"field":"n","type":"quantitative","scale":{"domain":[50,350],"nice":false,"range":[34,411]},"axis":{"values":[50,100,150,200,250,300,350],"format":"d","title":"stimuli (n)","labelPadding":8,"titleY":38}},
"y":{"field":"a","type":"quantitative","scale":{"domain":[0,0.6],"nice":false},"axis":{"values":[0,0.6],"format":".1~f","title":"ampl. (mV)","offset":-18,"tickSize":8,"labelPadding":3,"titleX":-48}}},
"layer":[{"mark":{"type":"line","color":"#1aa9e3","strokeWidth":1}},{"mark":{"type":"point","filled":true,"size":12,"color":"#1aa9e3","opacity":1}}]},
{"width":123,"height":216,"data":{"values":[]},"mark":"point","title":{"text":"D","dx":77,"offset":18}},
{"width":410,"height":79,"data":{"name":"D"},"mark":{"type":"line","color":"#0daeeb","strokeWidth":3},
"encoding":{"x":{"field":"n","type":"quantitative","scale":{"domain":[1800,2000],"nice":false,"range":[34,410]},"axis":{"values":[1800,1850,1900,1950,2000],"format":"d","title":"stimuli (n)","labelPadding":8,"titleY":43}},
"y":{"field":"a","type":"quantitative","scale":{"domain":[0,0.4],"nice":false},"axis":{"values":[0,0.4],"format":".1~f","title":"ampl. (mV)","offset":-22,"labelPadding":4,"titleX":-52}}}},
{"width":123,"height":420,"data":{"values":[]},"mark":"point","title":{"text":"E","dx":76,"offset":17}},
{"width":400,"height":320,"data":{"name":"E"},"mark":{"type":"line","color":"#0daeeb","strokeWidth":3},
"encoding":{"x":{"field":"f","type":"quantitative","scale":{"domain":[0,20],"nice":false,"range":[14,400]},"axis":{"values":[0,5,10,15,20],"format":"d","title":"frequency (Hz)","labelPadding":9,"titleY":37}},
"y":{"field":"p","type":"quantitative","scale":{"domain":[0,0.005],"nice":false},"axis":{"values":[0,0.005],"format":".3~f","title":"amplitude (mV² / Hz)","offset":-14,"labelPadding":6,"titleX":-16}}}},
{"width":24,"height":278,"data":{"name":"cap"},
"encoding":{"y":{"field":"line","type":"ordinal","scale":{"type":"point","padding":0},"axis":null},"text":{"field":"text","type":"nominal"}},
"layer":[
{"transform":[{"filter":"datum.seg==='p'"}],"mark":{"type":"text","align":"left","baseline":"middle","font":"Liberation Sans","fontSize":18,"color":"#231f20"}},
{"transform":[{"filter":"datum.seg==='r'"}],"mark":{"type":"text","align":"left","baseline":"middle","font":"Liberation Sans","fontSize":18,"color":"#231f20","dx":88}},
{"transform":[{"filter":"datum.seg==='b'"}],"mark":{"type":"text","align":"left","baseline":"middle","font":"Liberation Sans","fontSize":18,"fontWeight":"bold","color":"#231f20"}}
]},
{"width":1,"height":1,"data":{"values":[]},"mark":"point"}
]}
]}
]
}
